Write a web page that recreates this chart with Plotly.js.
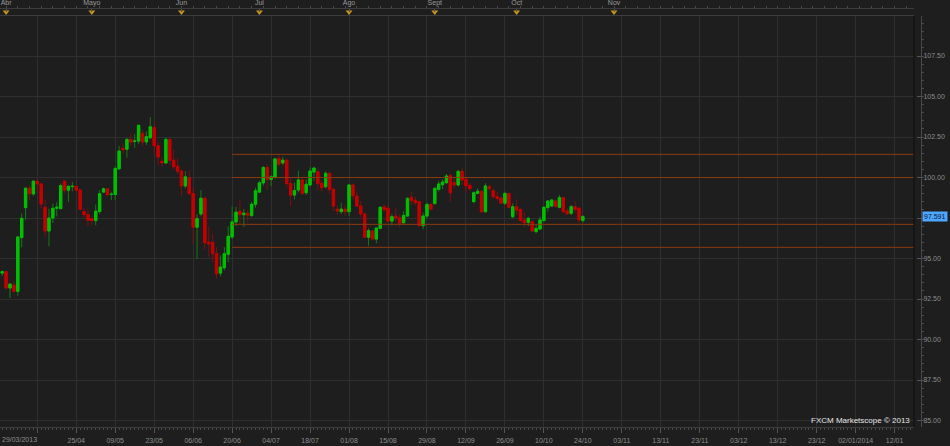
<!DOCTYPE html>
<html>
<head>
<meta charset="utf-8">
<script src="https://cdn.plot.ly/plotly-2.35.2.min.js"></script>
<style>
html,body{margin:0;padding:0;background:#1e1e1e;}
#chart{width:950px;height:446px;}
</style>
</head>
<body>
<div id="chart"></div>
<script>
// ---- data (daily candles, index 0 = 29/03/2013, last = 24/10/2013) ----
const openP = [94.10,94.19,93.18,93.36,92.97,96.30,98.14,99.34,98.99,99.77,
99.60,98.16,96.70,97.50,98.10,98.08,99.77,99.22,99.44,99.46,
99.22,97.90,97.71,97.46,97.34,97.90,99.10,99.30,98.95,98.95,
100.54,101.80,101.75,102.35,102.23,102.25,102.72,102.20,102.45,103.09,
101.96,101.00,100.90,102.35,101.07,100.70,100.39,99.48,100.00,99.01,
96.93,97.75,98.72,96.00,96.00,95.30,94.10,94.43,95.26,96.33,
97.26,97.92,97.70,97.80,97.65,98.35,99.10,99.67,100.62,99.88,
100.00,101.18,100.90,101.07,99.63,98.92,99.23,99.85,99.06,99.54,
100.34,100.36,99.64,99.43,100.26,99.27,98.05,97.89,98.05,97.89,
99.54,98.86,98.24,97.75,96.31,96.70,96.20,96.86,98.18,98.10,
97.31,97.62,97.52,97.21,97.62,98.78,98.60,98.51,97.03,97.62,
98.34,98.40,99.27,99.56,99.68,100.13,99.68,99.54,100.38,99.89,
99.52,98.51,99.02,99.13,97.89,99.43,99.19,98.82,98.73,98.41,
99.02,97.58,98.20,98.03,97.38,97.23,97.27,96.66,96.82,97.34,
98.14,98.24,98.55,98.16,98.76,97.93,97.79,98.20,98.10,97.34];
const highP = [94.27,94.25,93.50,93.55,96.37,97.77,99.38,99.53,99.84,99.88,
99.65,98.64,98.08,98.39,98.47,99.63,99.84,99.50,99.73,99.50,
99.28,98.12,98.06,97.60,98.33,99.22,99.38,99.38,99.10,100.70,
101.94,102.10,102.43,102.72,102.68,103.28,102.93,102.85,103.72,103.48,
102.20,101.26,102.47,102.45,101.73,101.22,100.50,100.39,100.45,99.38,
97.73,99.22,98.85,96.95,96.54,95.71,95.20,95.71,96.99,98.20,
98.18,98.66,98.06,98.00,98.50,99.38,99.80,100.70,100.82,100.14,
101.22,101.48,101.28,101.18,99.94,99.68,100.42,99.95,99.88,100.63,
100.67,100.58,99.88,100.38,100.36,99.37,98.28,98.44,98.30,99.60,
99.64,99.13,98.55,97.79,96.86,96.76,96.92,98.24,98.36,98.30,
97.75,98.10,97.75,97.93,98.78,99.13,98.82,98.51,97.83,98.45,
98.40,99.40,99.80,99.89,100.22,100.22,100.05,100.46,100.57,100.05,
99.64,99.13,99.33,99.23,99.64,99.54,99.33,99.13,98.82,99.13,
99.02,98.41,98.66,98.10,97.83,97.58,97.38,97.07,97.58,98.24,
98.61,98.66,98.66,98.92,98.82,98.10,98.30,98.55,98.20,97.69];
const lowP = [93.92,93.10,92.56,92.90,92.70,95.70,97.40,98.60,98.87,99.05,
98.08,96.33,95.75,97.20,97.60,98.04,99.05,98.50,99.15,99.10,
97.98,97.53,97.00,97.05,97.05,97.77,99.05,98.85,98.60,98.60,
100.45,101.48,101.22,101.94,101.84,102.08,101.96,102.00,102.41,101.48,
100.76,100.66,100.87,100.76,100.50,100.20,98.85,99.32,98.90,95.88,
94.97,97.60,95.57,95.10,94.78,93.75,93.90,94.27,94.78,96.20,
97.00,97.10,96.95,97.25,97.55,98.14,99.05,99.50,99.26,99.47,
99.92,100.66,100.76,99.38,98.23,98.65,99.07,98.92,98.92,99.44,
99.80,99.23,99.13,99.33,99.02,97.95,97.69,97.75,97.62,97.62,
98.65,98.20,97.54,96.25,95.79,96.14,95.94,96.80,97.85,97.17,
97.05,97.27,96.92,97.11,97.58,98.30,98.30,96.97,96.80,97.48,
98.00,98.30,99.13,99.27,99.60,98.50,99.33,99.43,99.54,99.06,
99.19,98.41,98.98,97.79,97.83,99.19,98.71,98.57,98.36,98.30,
98.10,97.48,97.69,97.27,96.92,97.00,96.64,96.55,96.76,97.29,
97.89,98.20,98.16,98.10,97.83,97.69,97.69,97.83,97.21,97.21];
const closeP = [94.19,93.18,93.42,92.97,96.33,97.48,99.34,99.00,99.77,99.60,
98.37,96.70,97.50,98.10,98.16,99.50,99.22,99.46,99.46,99.22,
98.04,97.71,97.36,97.34,97.92,99.00,99.30,98.93,98.97,100.56,
101.63,101.72,102.35,102.19,102.25,103.22,102.20,102.52,103.13,101.96,
101.26,100.90,102.35,101.07,100.66,100.39,99.48,100.04,99.01,96.93,
97.46,98.72,95.98,95.90,95.30,94.06,94.47,95.30,96.37,97.26,
97.86,97.70,97.80,97.67,98.35,99.18,99.67,100.62,99.88,100.04,
101.15,100.82,101.07,99.63,98.91,99.19,99.85,99.02,99.58,100.40,
100.58,99.62,99.37,100.26,99.27,98.24,97.93,98.05,97.89,99.54,
98.88,98.24,97.75,96.31,96.72,96.20,96.88,98.16,98.03,97.31,
97.58,97.50,97.17,97.66,98.71,98.57,98.45,97.03,97.62,98.34,
98.05,99.33,99.60,99.72,100.09,99.06,99.54,100.38,99.85,99.48,
99.31,99.06,99.15,97.89,99.48,99.31,98.82,98.71,98.41,99.02,
98.16,98.20,97.99,97.34,97.21,97.48,96.70,96.86,97.38,98.16,
98.55,98.61,98.20,98.76,97.89,97.75,98.20,98.03,97.38,97.591];

// horizontal support / resistance levels, drawn from candle index levelStart
const levels = [101.43, 100.00, 97.11, 95.69];
const levelStart = 59;

// bottom date axis (candle index -> label)
const dateIdx = [0, 9, 19, 29, 39, 49, 59, 69, 79, 89, 99, 109, 119, 129, 139, 149,
                 159, 169, 179, 189, 199, 209, 219, 229];
const dateLabels = ['29/03/2013', '', '25/04', '09/05', '23/05', '06/06', '20/06', '04/07', '18/07',
                    '01/08', '15/08', '29/08', '12/09', '26/09', '10/10', '24/10',
                    '03/11', '13/11', '23/11', '03/12', '13/12', '23/12', '02/01/2014', '12/01'];
// top month markers
const monthIdx = [1, 23, 46, 66, 89, 111, 132, 157];
const monthLabels = ['Abr', 'Mayo', 'Jun', 'Jul', 'Ago', 'Sept', 'Oct', 'Nov'];
// price axis (97.50 label is hidden under the current-price tag in the reference)
const priceTicks = [85, 87.5, 90, 92.5, 95, 97.5, 100, 102.5, 105, 107.5];
const priceTickLabels = ['85.00', '87.50', '90.00', '92.50', '95.00', '', '100.00', '102.50', '105.00', '107.50'];
const watermark = 'FXCM Marketscope \u00a9 2013';

// ---- layout constants ----
const X_RANGE = [-0.565, 233.97];
const Y_RANGE = [84.60, 109.97];
const FONT = 'Liberation Sans, Arial, sans-serif';
const TICKCOL = '#8c8c8c';

const idx = openP.map((_, i) => i);
const bodyHigh = openP.map((o, i) => Math.max(o, closeP[i]));
const bodyLow = openP.map((o, i) => Math.min(o, closeP[i]));

const traces = [];
// wicks (full range, darker colour)
traces.push({
  type: 'candlestick', x: idx, open: openP, high: highP, low: lowP, close: closeP,
  xaxis: 'x', yaxis: 'y', whiskerwidth: 0, hoverinfo: 'skip', showlegend: false,
  increasing: {line: {color: '#137a13', width: 1}, fillcolor: '#137a13'},
  decreasing: {line: {color: '#7d1010', width: 1}, fillcolor: '#7d1010'}
});
// bodies (bright)
traces.push({
  type: 'candlestick', x: idx, open: openP, high: bodyHigh, low: bodyLow, close: closeP,
  xaxis: 'x', yaxis: 'y', whiskerwidth: 0, hoverinfo: 'skip', showlegend: false,
  increasing: {line: {color: '#00c000', width: 1}, fillcolor: '#00c000'},
  decreasing: {line: {color: '#c40000', width: 1}, fillcolor: '#c40000'}
});
// level lines
levels.forEach(lv => {
  traces.push({
    type: 'scatter', mode: 'lines', x: [levelStart, X_RANGE[1] + 5], y: [lv, lv],
    xaxis: 'x', yaxis: 'y', line: {color: '#8c3a10', width: 1},
    hoverinfo: 'skip', showlegend: false
  });
});
// month triangles in the top strip
traces.push({
  type: 'scatter', mode: 'markers', x: monthIdx, y: monthIdx.map(() => 0.5),
  xaxis: 'x2', yaxis: 'y2', cliponaxis: false,
  marker: {symbol: 'triangle-down', size: 6, color: '#c8961e', line: {width: 0}},
  hoverinfo: 'skip', showlegend: false
});

const mainTop = (427 - 16) / 427;
const layout = {
  width: 950, height: 446,
  margin: {l: 0, r: 29, t: 0, b: 19},
  paper_bgcolor: '#1e1e1e', plot_bgcolor: '#1e1e1e',
  showlegend: false,
  boxgap: 0.25, boxgroupgap: 0.2,
  font: {family: FONT, size: 7, color: TICKCOL},
  xaxis: {
    domain: [0, 914 / 921], range: X_RANGE, anchor: 'y',
    rangeslider: {visible: false},
    tickmode: 'array', tickvals: dateIdx.slice(1), ticktext: dateLabels.slice(1),
    showgrid: true, gridcolor: '#2f2f2f', gridwidth: 1, zeroline: false,
    ticks: 'outside', ticklen: 5, tickcolor: '#555555', tickwidth: 1,
    minor: {tickmode: 'linear', tick0: 0, dtick: 1, ticklen: 2, tickcolor: '#4a4a4a', showgrid: false},
    showline: true, linecolor: '#3c3c3c', mirror: true,
    tickfont: {family: FONT, size: 7, color: TICKCOL},
    ticklabelstandoff: 2, fixedrange: true
  },
  yaxis: {
    domain: [0, mainTop], range: Y_RANGE, anchor: 'free', position: 1, side: 'right',
    tickmode: 'array', tickvals: priceTicks, ticktext: priceTickLabels,
    showgrid: true, gridcolor: '#2f2f2f', zeroline: false,
    ticks: 'inside', ticklen: 4, tickcolor: '#555555',
    minor: {tickmode: 'linear', tick0: 85, dtick: 0.5, ticklen: 2, tickcolor: '#4a4a4a', showgrid: false},
    showline: true, linecolor: '#4a4a4a',
    tickfont: {family: FONT, size: 7, color: TICKCOL}, fixedrange: true
  },
  xaxis2: {
    domain: [0, 914 / 921], matches: 'x', anchor: 'y2', side: 'top',
    tickmode: 'array', tickvals: monthIdx, ticktext: monthLabels,
    showgrid: false, zeroline: false,
    ticks: 'inside', ticklen: 3, tickcolor: '#555555',
    minor: {tickmode: 'linear', tick0: 1, dtick: 3, ticklen: 2, tickcolor: '#4a4a4a', showgrid: false},
    showline: true, linecolor: '#3c3c3c',
    tickfont: {family: FONT, size: 7, color: '#9a9a9a'}, fixedrange: true
  },
  yaxis2: {
    domain: [(427 - 15) / 427, (427 - 9) / 427], range: [0, 1], anchor: 'x2',
    visible: false, fixedrange: true
  },
  shapes: [
    {type: 'line', xref: 'paper', yref: 'paper', x0: 914 / 921, x1: 914 / 921, y0: 0, y1: mainTop,
     line: {color: '#0c0c0c', width: 1}}
  ],
  annotations: [
    {xref: 'paper', yref: 'paper', x: 0, y: 0, xanchor: 'left', yanchor: 'top', yshift: -7,
     text: dateLabels[0], showarrow: false, font: {family: FONT, size: 7, color: TICKCOL}},
    {xref: 'paper', yref: 'paper', x: 912 / 921, y: 0, xanchor: 'right', yanchor: 'bottom', yshift: 0,
     text: watermark, showarrow: false, font: {family: FONT, size: 8, color: '#e6e6e6'}},
    {xref: 'paper', yref: 'y', x: 1, y: closeP[closeP.length - 1], xanchor: 'left', yanchor: 'middle',
     xshift: 1, text: closeP[closeP.length - 1].toFixed(3), showarrow: false,
     bgcolor: '#4da6ff', borderpad: 1, font: {family: FONT, size: 7, color: '#0a1830'}}
  ]
};

Plotly.newPlot('chart', traces, layout, {displayModeBar: false, staticPlot: true});
</script>
</body>
</html>
